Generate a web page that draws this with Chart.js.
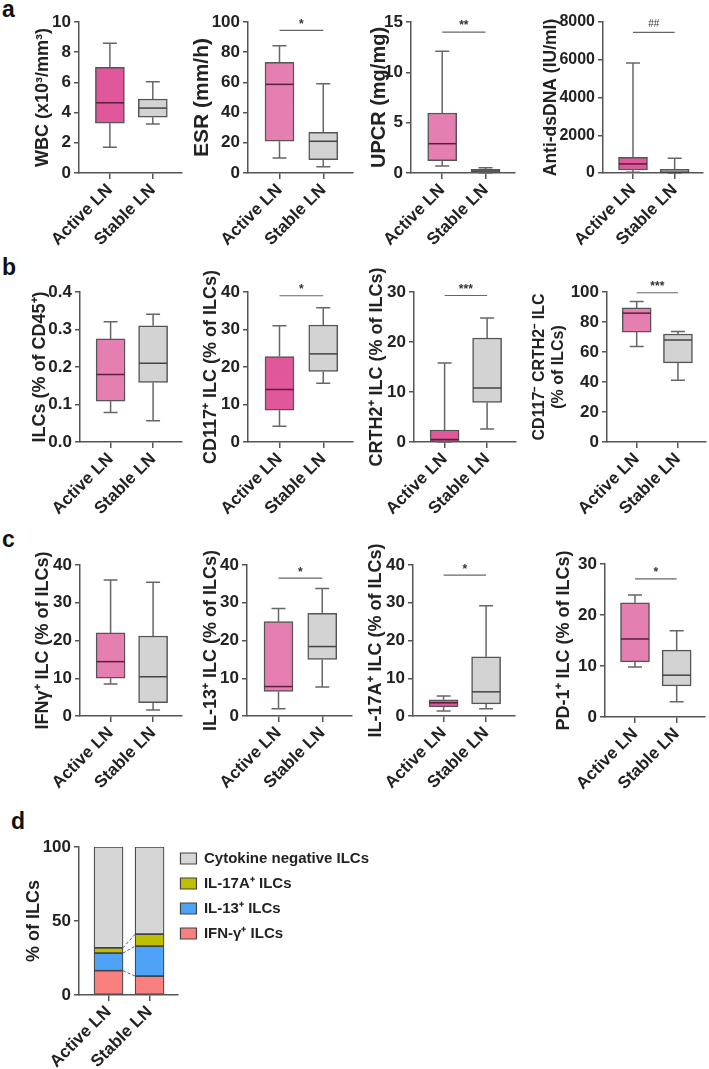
<!DOCTYPE html>
<html>
<head>
<meta charset="utf-8">
<script src="https://cdn.jsdelivr.net/npm/chart.js@4.4.1/dist/chart.umd.min.js"></script>
<style>
    body { margin: 0; background: #fff; }
    #fig { position: relative; width: 709px; height: 1069px; overflow: hidden; font-family: "Liberation Sans", Arial, sans-serif; }
    #fig canvas { position: absolute; }
    .letter { position: absolute; font-weight: bold; font-size: 23px; color: #111; }
</style>
</head>
<body>
<div id="fig">
    <div class="letter" style="left:2px;top:-4px">a</div>
    <div class="letter" style="left:2px;top:254px">b</div>
    <div class="letter" style="left:2px;top:526px">c</div>
    <div class="letter" style="left:11px;top:808px">d</div>
</div>
<script>
// groups on every x axis
const groups = ['Active LN', 'Stable LN'];

// box stats per group: [min, q1, median, q3, max]
const wbcBox   = [[1.7, 3.3, 4.65, 7.0, 8.6], [3.25, 3.7, 4.3, 4.9, 6.05]];
const esrBox   = [[10, 21, 58.7, 73.3, 84.3], [4.2, 8.8, 21, 27, 59.1]];
const upcrBox  = [[0.7, 1.22, 2.91, 5.96, 12.1], [0.0, 0.05, 0.2, 0.37, 0.53]];
const dsdnaBox = [[40, 160, 480, 830, 5830], [0, 10, 40, 200, 780]];
const ilcBox   = [[0.079, 0.109, 0.18, 0.275, 0.321], [0.057, 0.159, 0.21, 0.31, 0.341]];
const cd117Box = [[4.2, 8.5, 14, 22.8, 31], [15.7, 18.8, 23.5, 31.2, 35.8]];
const crth2Box = [[0, 0.05, 0.5, 2.4, 15.8], [2.6, 7.9, 10.8, 20.8, 24.8]];
const dnBox    = [[63.6, 73.3, 85.9, 89.4, 93.6], [41.1, 52.8, 68, 72, 73.7]];
const ifngBox  = [[8.5, 10, 14.4, 22, 36], [1.6, 3.5, 10.4, 21.2, 35.4]];
const il13Box  = [[1.9, 6.5, 7.8, 25, 28.5], [7.7, 15, 18.4, 27.2, 33.8]];
const il17Box  = [[1.3, 2.4, 3.5, 4.3, 5.3], [1.9, 3.2, 6.4, 15.7, 29.2]];
const pd1Box   = [[9.8, 10.8, 15.3, 22.4, 23.9], [3, 6.1, 8.2, 13.1, 16.9]];

// significance bars (value of the line, label)
const esrSig   = { y: 94.5, text: '*' };
const upcrSig  = { y: 14.0, text: '**' };
const dsdnaSig = { y: 7450, text: '##' };
const cd117Sig = { y: 39, text: '*' };
const crth2Sig = { y: 29.3, text: '***' };
const dnSig    = { y: 99.5, text: '***' };
const il13Sig  = { y: 36.5, text: '*' };
const il17Sig  = { y: 37.3, text: '*' };
const pd1Sig   = { y: 27.1, text: '*' };

// y tick labels
const wbcTicks   = [0, 2, 4, 6, 8, 10];
const esrTicks   = [0, 20, 40, 60, 80, 100];
const upcrTicks  = [0, 5, 10, 15];
const dsdnaTicks = [0, 2000, 4000, 6000, 8000];
const ilcTicks   = [0, 0.1, 0.2, 0.3, 0.4];
const pct40Ticks = [0, 10, 20, 30, 40];
const pct30Ticks = [0, 10, 20, 30];
const pct100Ticks = [0, 20, 40, 60, 80, 100];
const stackTicks = [0, 50, 100];

// panel d: stacked percentages (Active, Stable)
const stackLabels = ['IFN-γ⁺ ILCs', 'IL-13⁺ ILCs', 'IL-17A⁺ ILCs', 'Cytokine negative ILCs'];
const ifngPct = [16.4, 12.8];
const il13Pct = [11.9, 20.2];
const il17Pct = [3.6, 8.1];
const negPct  = [68.1, 58.9];

Chart.defaults.font.family = '"Liberation Sans", Arial, sans-serif';
Chart.defaults.color = '#222';

const PINK = '#e0589b';
const LIGHT_PINK = '#e67fb1';
const GRAY = '#d3d3d3';
const AXIS = '#555';
const X_MIN = -0.72, X_MAX = 1.68;

const fig = document.getElementById('fig');

function addCanvas(left, top, width, height) {
    const cv = document.createElement('canvas');
    cv.width = width;
    cv.height = height;
    cv.style.left = left + 'px';
    cv.style.top = top + 'px';
    cv.style.width = width + 'px';
    cv.style.height = height + 'px';
    fig.appendChild(cv);
    return cv;
}

// whiskers, medians and significance bar drawn on the chart's own scales
function whiskerPlugin(stats, sig) {
    return {
        id: 'whiskers',
        afterDatasetsDraw(chart) {
            const ctx = chart.ctx, xs = chart.scales.x, ys = chart.scales.y;
            ctx.save();
            ctx.lineWidth = 1.5;
            stats.forEach((s, i) => {
                const cx = xs.getPixelForValue(i);
                const [mn, q1, md, q3, mx] = s.map(v => ys.getPixelForValue(v));
                ctx.strokeStyle = '#666';
                ctx.beginPath();
                ctx.moveTo(cx, q3); ctx.lineTo(cx, mx);
                ctx.moveTo(cx - 7, mx); ctx.lineTo(cx + 7, mx);
                ctx.moveTo(cx, q1); ctx.lineTo(cx, mn);
                ctx.moveTo(cx - 7, mn); ctx.lineTo(cx + 7, mn);
                ctx.stroke();
                ctx.strokeStyle = i === 0 ? '#5a1d3b' : '#444';
                ctx.beginPath();
                ctx.moveTo(cx - 14, md); ctx.lineTo(cx + 14, md);
                ctx.stroke();
            });
            if (sig) {
                const y = ys.getPixelForValue(sig.y);
                const x0 = xs.getPixelForValue(0), x1 = xs.getPixelForValue(1);
                ctx.strokeStyle = '#666';
                ctx.lineWidth = 1.2;
                ctx.beginPath();
                ctx.moveTo(x0, y); ctx.lineTo(x1, y);
                ctx.stroke();
                ctx.fillStyle = '#333';
                ctx.font = (sig.text[0] === '#' ? '10px' : 'bold 12px') + ' "Liberation Sans", Arial, sans-serif';
                ctx.textAlign = 'center';
                ctx.textBaseline = 'bottom';
                ctx.fillText(sig.text, (x0 + x1) / 2, y - (sig.text[0] === '#' ? 3 : 0));
            }
            ctx.restore();
        }
    };
}

function axes(p, ticks) {
    return {
        x: {
            type: 'linear', min: X_MIN, max: X_MAX, offset: false,
            afterBuildTicks: s => { s.ticks = [{ value: 0 }, { value: 1 }]; },
            afterFit: s => { s.height = p.bottomRoom; },
            grid: { drawOnChartArea: false, tickLength: 6, color: AXIS, lineWidth: 1.5, offset: false },
            border: { color: AXIS, width: 1.5 },
            ticks: {
                autoSkip: false, minRotation: 45, maxRotation: 45, padding: 1,
                color: '#222', font: { size: 17, weight: 'bold' },
                callback: v => groups[v]
            }
        },
        y: {
            min: ticks[0], max: ticks[ticks.length - 1],
            afterBuildTicks: s => { s.ticks = ticks.map(v => ({ value: v })); },
            afterFit: s => { s.width = p.axisX - p.left; },
            grid: { drawOnChartArea: false, tickLength: 5, color: AXIS, lineWidth: 1.5 },
            border: { color: AXIS, width: 1.5 },
            ticks: {
                padding: 3, color: '#222', font: { size: p.tickSize || 17, weight: 'bold' },
                callback: p.fmt || (v => v)
            },
            title: {
                display: true, text: p.title, color: '#222', padding: 0,
                font: { size: p.titleSize, weight: 'bold', lineHeight: 1.2 }
            }
        }
    };
}

function boxPanel(p) {
    p.left = Math.round(p.titleX - p.titleSize * 0.6);
    p.top = p.plotTop - 50;
    p.bottomRoom = 80;
    const height = p.plotBottom + p.bottomRoom - p.top;
    const width = p.plotRight + 3 - p.left;
    const cv = addCanvas(p.left, p.top, width, height);
    new Chart(cv, {
        type: 'bar',
        data: {
            datasets: [{
                data: p.stats.map((s, i) => ({ x: i, y: [s[1], s[3]] })),
                backgroundColor: [p.pink, GRAY],
                borderColor: AXIS,
                borderWidth: 1.5,
                borderSkipped: false,
                barThickness: 29
            }]
        },
        options: {
            responsive: false,
            animation: false,
            layout: { padding: { top: p.plotTop - p.top, right: 3, left: 0, bottom: 0 } },
            plugins: { legend: { display: false }, tooltip: { enabled: false } },
            scales: axes(p, p.ticks)
        },
        plugins: [whiskerPlugin(p.stats, p.sig)]
    });
}

const one = v => v.toFixed(1);

// row a
boxPanel({ title: 'WBC (x10³/mm³)', titleSize: 18, titleX: 43, axisX: 79, plotRight: 182, plotTop: 22, plotBottom: 173, stats: wbcBox, ticks: wbcTicks, pink: PINK });
boxPanel({ title: 'ESR (mm/h)', titleSize: 21, titleX: 203, axisX: 248, plotRight: 353, plotTop: 22, plotBottom: 173, stats: esrBox, ticks: esrTicks, pink: LIGHT_PINK, sig: esrSig });
boxPanel({ title: 'UPCR (mg/mg)', titleSize: 20, titleX: 379, axisX: 411, plotRight: 515, plotTop: 22, plotBottom: 173, stats: upcrBox, ticks: upcrTicks, pink: LIGHT_PINK, sig: upcrSig });
boxPanel({ title: 'Anti-dsDNA (IU/ml)', titleSize: 17.5, titleX: 551, axisX: 603, plotRight: 703, plotTop: 22, plotBottom: 173, stats: dsdnaBox, ticks: dsdnaTicks, pink: PINK, sig: dsdnaSig, tickSize: 16 });

// row b
boxPanel({ title: 'ILCs (% of CD45⁺)', titleSize: 18, titleX: 40, axisX: 80, plotRight: 182, plotTop: 292, plotBottom: 442, stats: ilcBox, ticks: ilcTicks, pink: LIGHT_PINK, fmt: one });
boxPanel({ title: 'CD117⁺ ILC (% of ILCs)', titleSize: 18, titleX: 211, axisX: 248, plotRight: 353, plotTop: 292, plotBottom: 442, stats: cd117Box, ticks: pct40Ticks, pink: PINK, sig: cd117Sig });
boxPanel({ title: 'CRTH2⁺ ILC (% of ILCs)', titleSize: 18, titleX: 377, axisX: 414, plotRight: 516, plotTop: 292, plotBottom: 442, stats: crth2Box, ticks: pct30Ticks, pink: PINK, sig: crth2Sig });
boxPanel({ title: ['CD117⁻ CRTH2⁻ ILC', '(% of ILCs)'], titleSize: 16, titleX: 540, axisX: 607, plotRight: 706, plotTop: 292, plotBottom: 442, stats: dnBox, ticks: pct100Ticks, pink: LIGHT_PINK, sig: dnSig });

// row c
boxPanel({ title: 'IFNγ⁺ ILC (% of ILCs)', titleSize: 18, titleX: 43, axisX: 80, plotRight: 182, plotTop: 565, plotBottom: 716, stats: ifngBox, ticks: pct40Ticks, pink: LIGHT_PINK });
boxPanel({ title: 'IL-13⁺ ILC (% of ILCs)', titleSize: 18, titleX: 211, axisX: 247, plotRight: 352, plotTop: 565, plotBottom: 716, stats: il13Box, ticks: pct40Ticks, pink: LIGHT_PINK, sig: il13Sig });
boxPanel({ title: 'IL-17A⁺ ILC (% of ILCs)', titleSize: 18, titleX: 376, axisX: 413, plotRight: 515, plotTop: 565, plotBottom: 716, stats: il17Box, ticks: pct40Ticks, pink: PINK, sig: il17Sig });
boxPanel({ title: 'PD-1⁺ ILC (% of ILCs)', titleSize: 18, titleX: 564, axisX: 605, plotRight: 705, plotTop: 564, plotBottom: 717, stats: pd1Box, ticks: pct30Ticks, pink: LIGHT_PINK, sig: pd1Sig });

// panel d: stacked bars with dashed links between segment tops
const linkPlugin = {
    id: 'links',
    afterLayout(chart) {
        // pull the legend closer to the plot, as in the figure
        const lg = chart.legend;
        lg.left -= 7; lg.right -= 7;
        lg.top -= 6; lg.bottom -= 6;
    },
    afterDatasetsDraw(chart) {
        const ctx = chart.ctx;
        ctx.save();
        ctx.strokeStyle = '#4b55d8';
        ctx.lineWidth = 1;
        ctx.setLineDash([3, 2]);
        for (let d = 0; d < 3; d++) {
            const bars = chart.getDatasetMeta(d).data;
            ctx.beginPath();
            ctx.moveTo(bars[0].x + bars[0].width / 2, bars[0].y);
            ctx.lineTo(bars[1].x - bars[1].width / 2, bars[1].y);
            ctx.stroke();
        }
        ctx.restore();
    }
};

(function stackPanel() {
    const p = { title: '% of ILCs', titleSize: 18, titleX: 34, axisX: 79, plotTop: 847, plotBottom: 995 };
    p.left = Math.round(p.titleX - p.titleSize * 0.6);
    p.top = p.plotTop - 27;
    p.bottomRoom = 80;
    const cv = addCanvas(p.left, p.top, 178 - p.left + 208, p.plotBottom + p.bottomRoom - p.top);
    const series = [ifngPct, il13Pct, il17Pct, negPct];
    const fills = ['#fa7f7f', '#4fa3f7', '#bfbf00', '#d6d6d6'];
    const sc = axes(p, stackTicks);
    sc.x.stacked = true;
    sc.y.stacked = true;
    new Chart(cv, {
        type: 'bar',
        data: {
            datasets: series.map((vals, k) => ({
                label: stackLabels[k],
                data: vals.map((v, i) => ({ x: i, y: v })),
                backgroundColor: fills[k],
                borderColor: '#444',
                borderWidth: 1.2,
                borderSkipped: false,
                barThickness: 29
            }))
        },
        options: {
            responsive: false,
            animation: false,
            layout: { padding: { top: p.plotTop - p.top, right: 0, left: 0, bottom: 0 } },
            plugins: {
                tooltip: { enabled: false },
                legend: {
                    position: 'right', align: 'start', reverse: true, maxWidth: 260,
                    labels: {
                        boxWidth: 16, boxHeight: 11, padding: 10, color: '#222',
                        font: { size: 15, weight: 'bold' }
                    }
                }
            },
            scales: sc
        },
        plugins: [linkPlugin]
    });
})();
</script>
</body>
</html>
